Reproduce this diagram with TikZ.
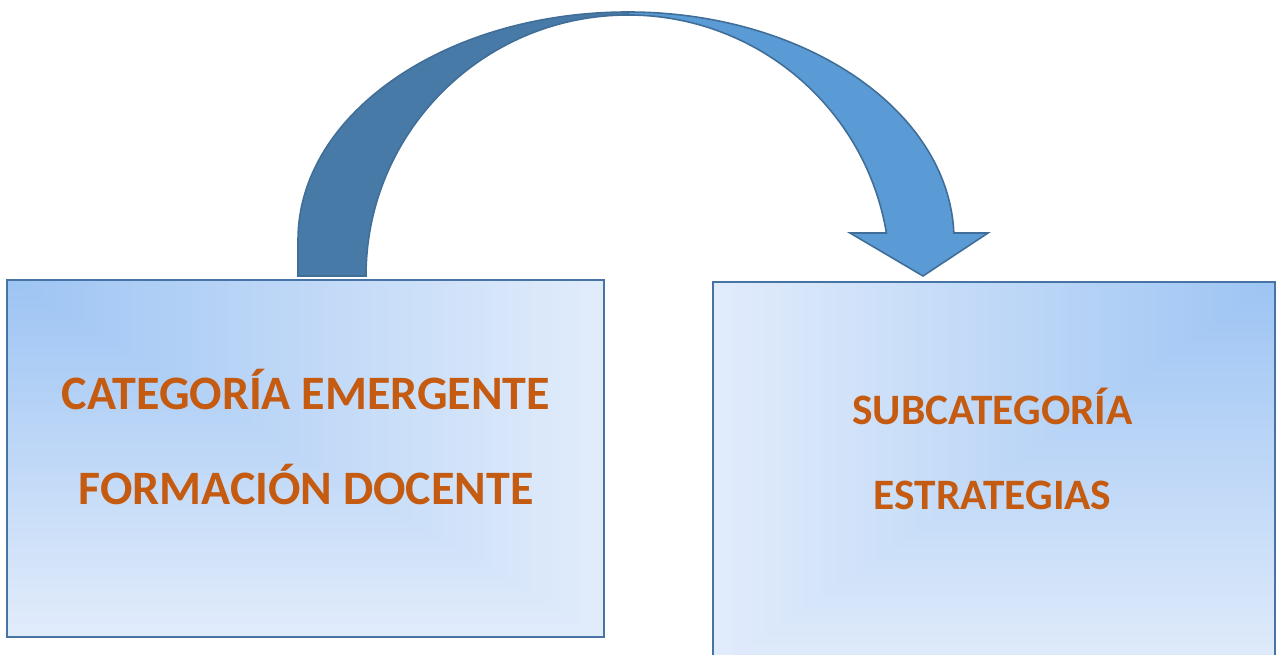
\documentclass[tikz,border=0pt]{standalone}
\usepackage{fontspec}
\setmainfont{Carlito}
\definecolor{darkband}{RGB}{71,122,167}
\definecolor{lightband}{RGB}{91,155,213}
\definecolor{bandline}{RGB}{65,110,152}
\definecolor{boxline}{RGB}{72,115,165}
\definecolor{boxdark}{RGB}{157,196,243}
\definecolor{boxlight}{RGB}{225,236,251}
\definecolor{txt}{RGB}{197,90,17}
\begin{document}
\begin{tikzpicture}[x=0.5pt,y=0.5pt,
  box/.style={draw=boxline, line width=1.1pt, inner sep=0pt},
  lbl/.style={anchor=base, text=txt, inner sep=0pt},
  big/.style={font=\bfseries\fontsize{24pt}{28pt}\selectfont},
  small/.style={font=\bfseries\fontsize{21.7pt}{26pt}\selectfont},
  band/.style={draw=bandline, line width=0.8pt, line join=miter}]
\useasboundingbox (0,0) rectangle (1277,654);
\clip (0,0) rectangle (1277,654);
% box gradients (rectangular, from the corner)
\foreach \i in {100,99,...,1}{
  \fill[boxlight!\i!boxdark] (7,374) rectangle ({7+5.97*\i},{374-3.57*\i});
  \fill[boxlight!\i!boxdark] (1275,372) rectangle ({1275-5.62*\i},{372-3.9*\i});
}
% boxes
\node[box, minimum width=298.5pt, minimum height=178.5pt] (L) at (305.5,195.5) {};
\node[box, minimum width=281pt, minimum height=195pt] (R) at (994,177) {};
% texts
\node[lbl, big] (l1) at (306,245) {CATEGORÍA EMERGENTE};
\node[lbl, big] (l2) at (306,150) {FORMACIÓN DOCENTE};
\node[lbl, small] (r1) at (992.5,230) {SUBCATEGORÍA};
\node[lbl, small] (r2) at (992.5,145) {ESTRATEGIAS};
% curved arrow
\coordinate (tailL) at (298,378);
\coordinate (tailR) at (366,378);
\coordinate (topO) at (628,642);
\coordinate (topI) at (628,639);
\coordinate (hL) at (850,421);
\coordinate (hR) at (988,421);
\coordinate (tip) at (923,378);
\filldraw[band, fill=darkband] (tailL) -- (298,414)
  arc[start angle=180, end angle=90, x radius=165pt, y radius=114pt]
  -- (topI)
  arc[start angle=90, end angle=180, x radius=131pt, y radius=130.5pt]
  -- (tailR) -- cycle;
\filldraw[band, fill=lightband] (topO)
  arc[start angle=90, end angle=1.76, x radius=163pt, y radius=114pt]
  -- (hR) -- (tip) -- (hL) -- (886.4,421)
  arc[start angle=9.48, end angle=90, x radius=131pt, y radius=130.5pt]
  -- cycle;
\end{tikzpicture}
\end{document}
